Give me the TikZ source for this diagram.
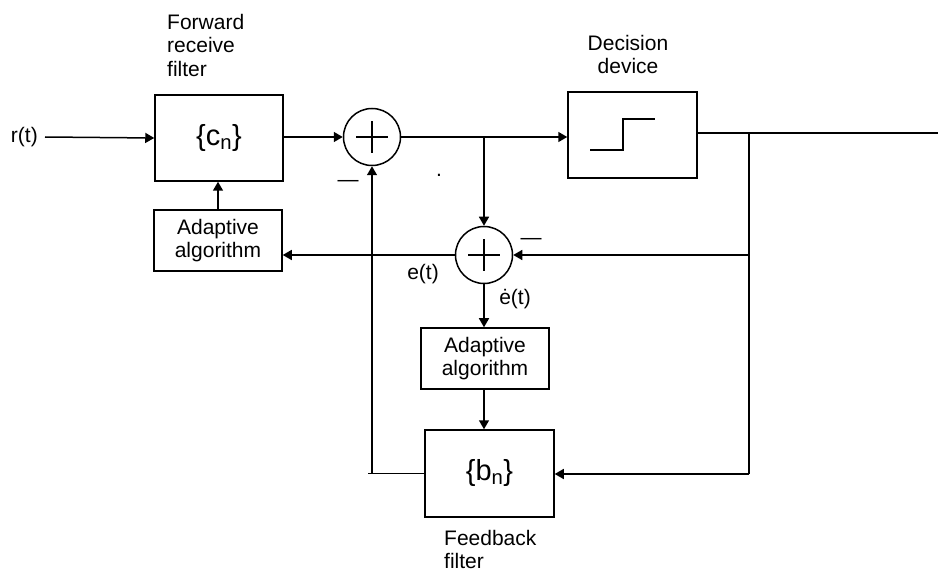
\documentclass[tikz,border=0pt]{standalone}
\usepackage{fontspec}
\setmainfont{Liberation Sans}
\usetikzlibrary{arrows.meta,calc}
\begin{document}
\begin{tikzpicture}[x=1pt,y=-1pt,
  lw/.style={line width=1.5pt},
  arr/.style={lw,-{Triangle[length=9pt,width=10pt]}},
  blk/.style={draw,lw,minimum width=#1,inner sep=0pt},
  lbl/.style={font=\fontsize{21}{23.5}\selectfont,inner sep=0pt},
  big/.style={font=\fontsize{29}{29}\selectfont},
  sumnode/.style={draw,lw,circle,minimum size=57pt,inner sep=0pt,
    path picture={\draw[lw] ($(path picture bounding box.center)+(-16pt,0)$) -- ++(32pt,0);
                  \draw[lw] ($(path picture bounding box.center)+(0,-16pt)$) -- ++(0,32pt);}}
]
\useasboundingbox (0,0) rectangle (938,572);

% blocks
\node[blk=128pt,minimum height=86pt,big] (cn) at (219,138) {\{c\textsubscript{n}\}};
\node[sumnode] (s1) at (372,137) {};
\node[blk=129pt,minimum height=86pt] (dec) at (632.5,135) {};
\node[sumnode] (s2) at (484,255) {};
\node[blk=128pt,minimum height=61pt,lbl,align=center] (ad1) at (218,240.5) {Adaptive\\algorithm};
\node[blk=128pt,minimum height=61pt,lbl,align=center] (ad2) at (485,358.5) {Adaptive\\algorithm};
\node[blk=129pt,minimum height=87pt,big] (bn) at (489.5,473.5) {\{b\textsubscript{n}\}};

% step symbol inside decision device
\draw[lw] (590,150) -- (623,150) -- (623,119) -- (655,119);

% labels
\node[lbl,anchor=east] (rt) at (38,137) {r(t)};
\node[lbl,anchor=north west,align=left] (fwd) at (167,14) {Forward\\receive\\filter};
\node[lbl,anchor=north,align=center] (decl) at (628,35) {Decision\\device};
\node[lbl,anchor=north west,align=left] (fbl) at (444,530) {Feedback\\filter};
\node[lbl] (et) at (423,274) {e(t)};
\node[lbl] (edt) at (515,299) {ė(t)};
\node[lbl,anchor=base] (m1) at (348,186.5) {—};
\node[lbl,anchor=base] (m2) at (531,244.5) {—};
\node[lbl,anchor=base] (dot) at (439,177) {.};

% coordinates
\coordinate (br) at (484,137);
\coordinate (tap) at (749,133);
\coordinate (tapb) at (749,474);
\coordinate (out) at (938,133);
\coordinate (fbend) at (372,473.5);
\coordinate (fbstub) at (368,473.5);

% connectors
\draw[arr] ([xshift=7pt]rt.east) -- (cn.west);
\draw[arr] (cn.east |- s1.west) -- (s1.west);
\draw[arr] (s1.east) -- (s1.east -| dec.west);
\draw[arr] (br) -- (s2.north);
\draw[arr] (ad1.north) -- (ad1.north |- cn.south);
\draw[arr] (s2.west) -- (s2.west -| ad1.east);
\draw[arr] (s2.south) -- (s2.south |- ad2.north);
\draw[arr] (s2.south |- ad2.south) -- (s2.south |- bn.north);
\draw[lw] (dec.east |- tap) -- (out);
\draw[lw] (tap) -- (tapb);
\draw[arr] (tap |- s2.east) -- (s2.east);
\draw[arr] (tapb) -- (tapb -| bn.east);
\draw[lw] (bn.west) -- (fbstub);
\draw[arr] (fbend) -- (s1.south);
\end{tikzpicture}
\end{document}
